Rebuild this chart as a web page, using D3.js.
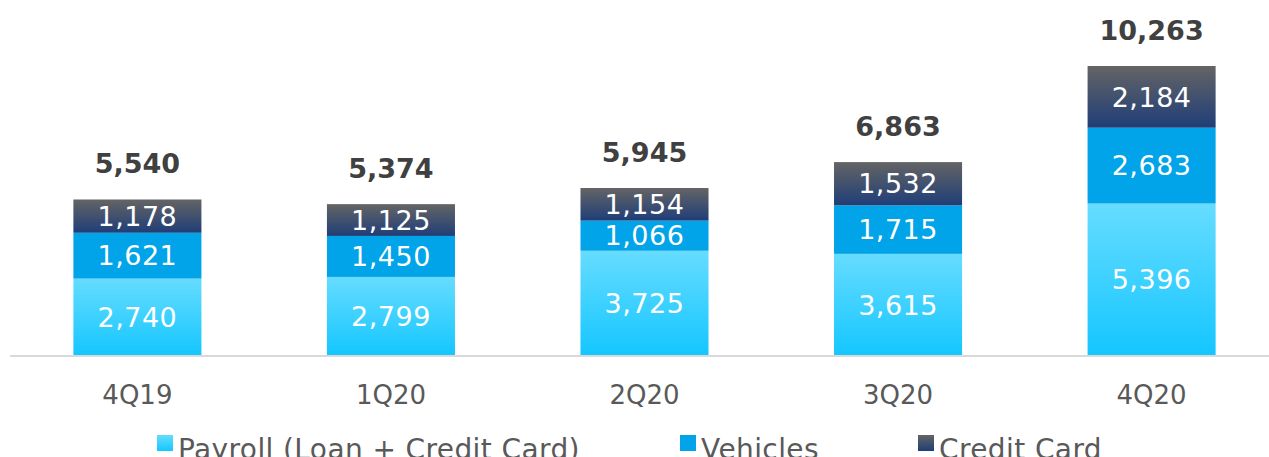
<!DOCTYPE html>
<html>
<head>
<meta charset="utf-8">
<script src="https://cdn.jsdelivr.net/npm/d3@7"></script>
<style>
  body { margin: 0; background: #fff; }
  svg { display: block; font-family: "DejaVu Sans", sans-serif; }
</style>
</head>
<body>
<div id="chart"></div>
<script>
// Data
const quarters = ["4Q19", "1Q20", "2Q20", "3Q20", "4Q20"];
const payroll = [2740, 2799, 3725, 3615, 5396];
const vehicles = [1621, 1450, 1066, 1715, 2683];
const creditCard = [1178, 1125, 1154, 1532, 2184];
const totals = [5540, 5374, 5945, 6863, 10263];
const seriesNames = ["Payroll (Loan + Credit Card)", "Vehicles", "Credit Card"];

const width = 1269, height = 457;
const baseY = 356;

const svg = d3.select("#chart").append("svg")
  .attr("width", width)
  .attr("height", height);

// gradients
const defs = svg.append("defs");
function addGradient(id, top, bottom) {
  const g = defs.append("linearGradient")
    .attr("id", id).attr("x1", 0).attr("y1", 0).attr("x2", 0).attr("y2", 1);
  g.append("stop").attr("offset", "0%").attr("stop-color", top);
  g.append("stop").attr("offset", "100%").attr("stop-color", bottom);
}
addGradient("gPayroll", "#66dcff", "#14c6ff");
addGradient("gCard", "#646464", "#1f3e78");

const fills = ["url(#gPayroll)", "#01a3e9", "url(#gCard)"];

const x = d3.scaleBand()
  .domain(quarters)
  .range([10, 1279])
  .paddingInner(0.495)
  .paddingOuter(0.25);

const y = d3.scaleLinear()
  .domain([0, 10263])
  .range([baseY, 66]);

const table = quarters.map((q, i) => ({
  quarter: q,
  payroll: payroll[i],
  vehicles: vehicles[i],
  card: creditCard[i],
  total: totals[i]
}));

const stack = d3.stack().keys(["payroll", "vehicles", "card"]);
const layers = stack(table);

const fmt = d3.format(",");

layers.forEach((layer, li) => {
  const g = svg.append("g");
  g.selectAll("rect")
    .data(layer)
    .enter().append("rect")
    .attr("x", d => x(d.data.quarter))
    .attr("y", d => y(d[1]))
    .attr("width", x.bandwidth())
    .attr("height", d => y(d[0]) - y(d[1]))
    .attr("fill", fills[li]);
  g.selectAll("text")
    .data(layer)
    .enter().append("text")
    .attr("x", d => x(d.data.quarter) + x.bandwidth() / 2)
    .attr("y", d => (y(d[0]) + y(d[1])) / 2)
    .attr("dy", "0.36em")
    .attr("text-anchor", "middle")
    .attr("fill", "#fff")
    .attr("font-size", 27)
    .attr("letter-spacing", 0.5)
    .text(d => fmt(d[1] - d[0]));
});

// totals
svg.append("g").selectAll("text")
  .data(table)
  .enter().append("text")
  .attr("x", d => x(d.quarter) + x.bandwidth() / 2)
  .attr("y", d => y(d.total) - 26)
  .attr("text-anchor", "middle")
  .attr("fill", "#404040")
  .attr("font-size", 27)
  .attr("font-weight", "bold")
  .text(d => fmt(d.total));

// baseline axis
const axis = svg.append("g")
  .attr("transform", `translate(0,${baseY})`)
  .call(d3.axisBottom(x).tickSize(0).tickPadding(30));
axis.select(".domain").attr("d", "M10,0H1269").attr("stroke", "#d9d9d9").attr("stroke-width", 2);
axis.selectAll("text")
  .attr("font-size", 26)
  .attr("font-family", "DejaVu Sans, sans-serif")
  .attr("fill", "#595959");

// legend
const legendX = [157, 680, 918];
const legend = svg.append("g");
seriesNames.forEach((name, i) => {
  const item = legend.append("g").attr("transform", `translate(${legendX[i]},435)`);
  item.append("rect").attr("width", 16).attr("height", 16).attr("fill", fills[i]);
  item.append("text")
    .attr("x", 21)
    .attr("y", 24)
    .attr("font-size", 28)
    .attr("letter-spacing", 0.4)
    .attr("fill", "#595959")
    .text(name);
});
</script>
</body>
</html>
